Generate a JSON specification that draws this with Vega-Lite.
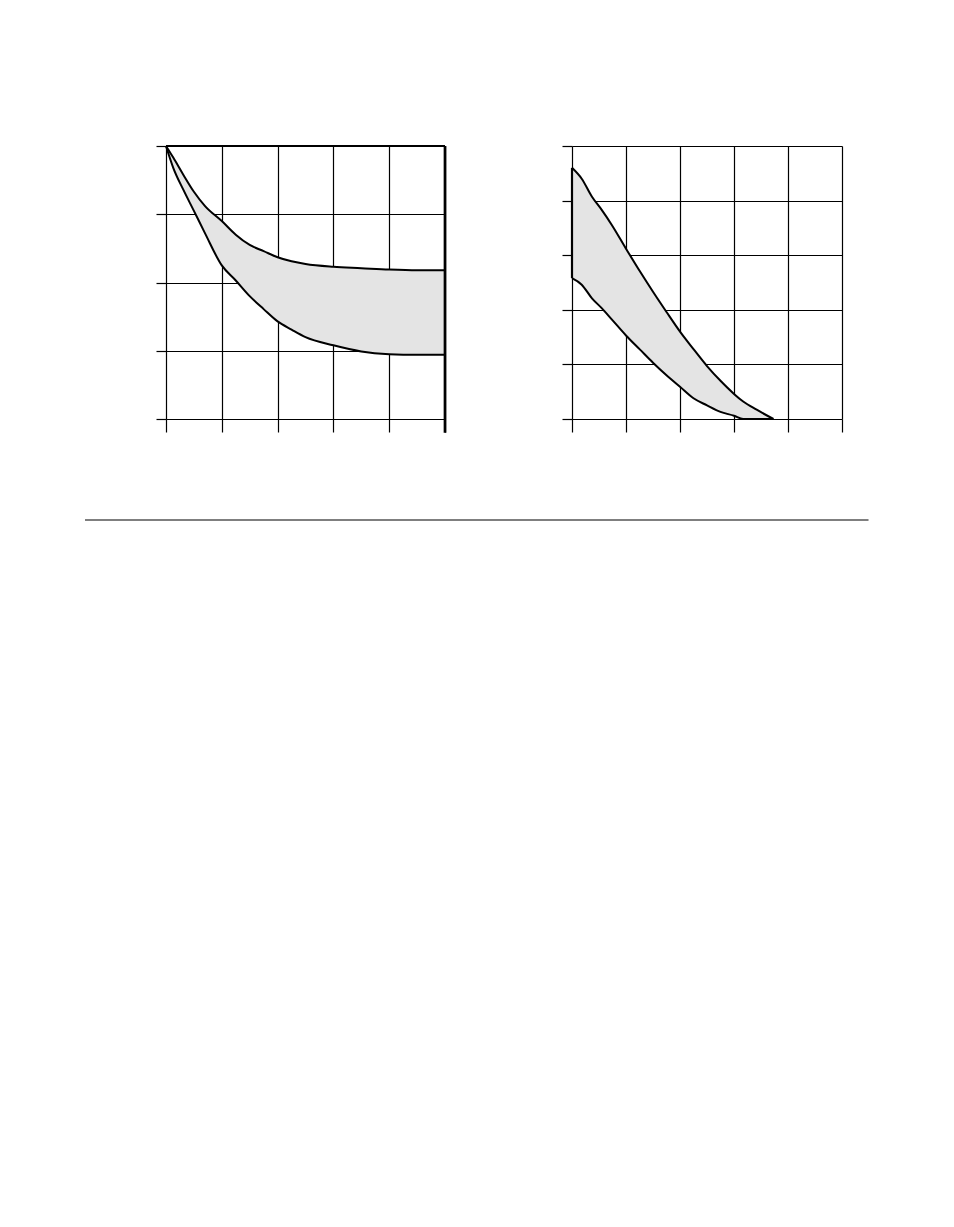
{
  "$schema": "https://vega.github.io/schema/vega-lite/v6.json",
  "background": "white",
  "padding": {"left": 84, "top": 142, "right": 5, "bottom": 5},
  "spacing": 127,
  "bounds": "flush",
  "config": {
    "view": {"stroke": null},
    "axis": {"labels": false, "domain": false, "grid": true, "gridColor": "black", "gridWidth": 1.2, "gridOpacity": 1, "tickColor": "black", "tickWidth": 1.2, "tickOpacity": 1, "title": null},
    "axisX": {"tickSize": 13},
    "axisY": {"tickSize": 10}
  },
  "hconcat": [
    {
      "width": 279,
      "height": 273,
      "layer": [
        {
          "data": {"name": "left", "values": [
            {"x": 0, "hi": 4.0, "lo": 4.0},
            {"x": 0.13, "hi": 3.83, "lo": 3.68},
            {"x": 0.31, "hi": 3.58, "lo": 3.36},
            {"x": 0.5, "hi": 3.33, "lo": 3.05},
            {"x": 0.7, "hi": 3.12, "lo": 2.72},
            {"x": 1.0, "hi": 2.9, "lo": 2.25},
            {"x": 1.25, "hi": 2.7, "lo": 2.03},
            {"x": 1.5, "hi": 2.55, "lo": 1.8},
            {"x": 1.75, "hi": 2.46, "lo": 1.61},
            {"x": 2.0, "hi": 2.37, "lo": 1.43},
            {"x": 2.25, "hi": 2.31, "lo": 1.31},
            {"x": 2.5, "hi": 2.27, "lo": 1.2},
            {"x": 3.0, "hi": 2.23, "lo": 1.08},
            {"x": 3.5, "hi": 2.21, "lo": 0.99},
            {"x": 4.0, "hi": 2.19, "lo": 0.95},
            {"x": 4.5, "hi": 2.18, "lo": 0.94},
            {"x": 5.0, "hi": 2.18, "lo": 0.94}
          ]},
          "layer": [
            {
              "mark": {"type": "area", "color": "#e4e4e4", "interpolate": "monotone"},
              "encoding": {
                "x": {"field": "x", "type": "quantitative", "scale": {"domain": [0, 5], "nice": false, "zero": false}, "axis": {"values": [0, 1, 2, 3, 4, 5]}},
                "y": {"field": "hi", "type": "quantitative", "scale": {"domain": [0, 4], "nice": false}, "axis": {"values": [0, 1, 2, 3, 4]}},
                "y2": {"field": "lo"}
              }
            },
            {
              "mark": {"type": "line", "color": "black", "strokeWidth": 2, "interpolate": "monotone"},
              "encoding": {"x": {"field": "x", "type": "quantitative"}, "y": {"field": "hi", "type": "quantitative"}}
            },
            {
              "mark": {"type": "line", "color": "black", "strokeWidth": 2, "interpolate": "monotone"},
              "encoding": {"x": {"field": "x", "type": "quantitative"}, "y": {"field": "lo", "type": "quantitative"}}
            }
          ]
        },
        {
          "data": {"values": [{"x0": 0, "x1": 5, "y0": 4}]},
          "mark": {"type": "rule", "color": "black", "strokeWidth": 2.2},
          "encoding": {
            "x": {"field": "x0", "type": "quantitative"},
            "x2": {"field": "x1"},
            "y": {"field": "y0", "type": "quantitative"}
          }
        },
        {
          "data": {"values": [{"x0": 5, "y0": 4, "y1": -0.2}]},
          "mark": {"type": "rule", "color": "black", "strokeWidth": 2.7},
          "encoding": {
            "x": {"field": "x0", "type": "quantitative"},
            "y": {"field": "y0", "type": "quantitative"},
            "y2": {"field": "y1"}
          }
        },
        {
          "data": {"values": [{"x0": -1.4516, "x1": 12.59, "y0": -1.48}]},
          "mark": {"type": "rule", "color": "black", "strokeWidth": 1.2},
          "encoding": {
            "x": {"field": "x0", "type": "quantitative"},
            "x2": {"field": "x1"},
            "y": {"field": "y0", "type": "quantitative"}
          }
        }
      ]
    },
    {
      "width": 270,
      "height": 273,
      "data": {"values": [
        {"x": 0, "hi": 4.6, "lo": 2.58},
        {"x": 0.18, "hi": 4.4, "lo": 2.46},
        {"x": 0.37, "hi": 4.07, "lo": 2.21},
        {"x": 0.55, "hi": 3.83, "lo": 2.03},
        {"x": 0.74, "hi": 3.55, "lo": 1.82},
        {"x": 1.0, "hi": 3.12, "lo": 1.53},
        {"x": 1.26, "hi": 2.7, "lo": 1.27},
        {"x": 1.5, "hi": 2.33, "lo": 1.03},
        {"x": 1.75, "hi": 1.96, "lo": 0.8},
        {"x": 2.0, "hi": 1.6, "lo": 0.59},
        {"x": 2.25, "hi": 1.28, "lo": 0.38},
        {"x": 2.5, "hi": 0.97, "lo": 0.25},
        {"x": 2.75, "hi": 0.7, "lo": 0.13},
        {"x": 3.0, "hi": 0.46, "lo": 0.06},
        {"x": 3.17, "hi": 0.32, "lo": 0.0},
        {"x": 3.42, "hi": 0.17, "lo": 0.0},
        {"x": 3.73, "hi": 0.0, "lo": 0.0}
      ]},
      "encoding": {
        "x": {"field": "x", "type": "quantitative", "scale": {"domain": [0, 5], "nice": false, "zero": false}, "axis": {"values": [0, 1, 2, 3, 4, 5]}}
      },
      "layer": [
        {
          "mark": {"type": "area", "color": "#e4e4e4", "interpolate": "monotone"},
          "encoding": {
            "y": {"field": "hi", "type": "quantitative", "scale": {"domain": [0, 5], "nice": false}, "axis": {"values": [0, 1, 2, 3, 4, 5]}},
            "y2": {"field": "lo"}
          }
        },
        {
          "mark": {"type": "line", "color": "black", "strokeWidth": 2, "interpolate": "monotone"},
          "encoding": {"y": {"field": "hi", "type": "quantitative"}}
        },
        {
          "mark": {"type": "line", "color": "black", "strokeWidth": 2, "interpolate": "monotone"},
          "encoding": {"y": {"field": "lo", "type": "quantitative"}}
        },
        {
          "transform": [{"filter": "datum.x == 0"}],
          "mark": {"type": "rule", "color": "black", "strokeWidth": 2.2},
          "encoding": {
            "y": {"field": "hi", "type": "quantitative"},
            "y2": {"field": "lo"}
          }
        }
      ]
    }
  ]
}
